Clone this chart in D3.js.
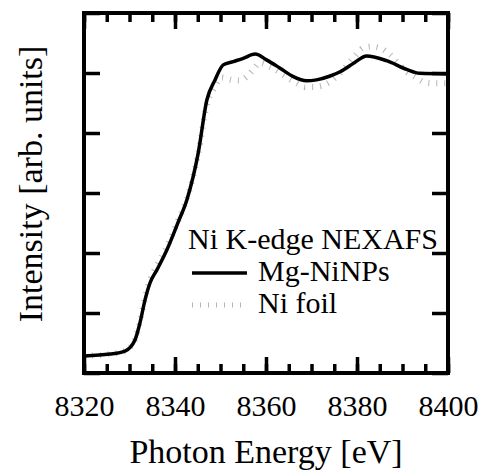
<!DOCTYPE html>
<html>
<head>
<meta charset="utf-8">
<script src="https://cdn.jsdelivr.net/npm/d3@7"></script>
<style>
  body { margin: 0; background: #fff; }
  svg { display: block; }
</style>
</head>
<body>
<div id="chart"></div>
<script>
// photon energy (eV) and normalized intensity
var mgEnergy = [8320, 8325.7, 8329.0, 8331.2, 8332.3, 8333.4, 8334.5, 8336.0, 8338.2, 8340.7,
  8342.6, 8345.1, 8347.0, 8348.8, 8350.6, 8352.8, 8355.0, 8357.6, 8360.2, 8363.1, 8366.0,
  8368.9, 8371.1, 8374.1, 8376.3, 8379.5, 8382.1, 8386.5, 8390.9, 8393.8, 8400];
var mgValues = [0.057, 0.063, 0.073, 0.11, 0.167, 0.243, 0.30, 0.343, 0.41, 0.503,
  0.577, 0.733, 0.91, 0.977, 1.027, 1.038, 1.049, 1.063, 1.043, 1.016, 0.988,
  0.974, 0.977, 0.99, 1.004, 1.035, 1.057, 1.041, 1.012, 0.999, 0.997];

var foilEnergy = [8320, 8325.7, 8329.0, 8331.2, 8332.3, 8333.4, 8334.5, 8336.0, 8338.2, 8340.7,
  8342.6, 8345.1, 8347.0, 8348.6, 8350.2, 8352.5, 8354.3, 8355.8, 8357.1, 8358.7, 8360.9,
  8363.1, 8364.8, 8366.7, 8368.6, 8370.3, 8372.2, 8374.1, 8376.3, 8379.6, 8381.3, 8383.2,
  8385.1, 8387.3, 8389.0, 8390.9, 8392.7, 8394.5, 8396.4, 8400];
var foilValues = [0.057, 0.063, 0.074, 0.112, 0.17, 0.25, 0.31, 0.357, 0.42, 0.51,
  0.58, 0.73, 0.895, 0.95, 0.985, 0.977, 0.975, 0.988, 1.01, 1.034, 1.021,
  1.001, 0.983, 0.967, 0.953, 0.953, 0.957, 0.971, 1.0, 1.057, 1.083, 1.088,
  1.083, 1.06, 1.033, 1.004, 0.988, 0.971, 0.966, 0.966];

var xTicks = [8320, 8340, 8360, 8380, 8400];
var xMinorTicks = d3.range(8320, 8401, 5);
var yTicks = [0, 0.2, 0.4, 0.6, 0.8, 1.0, 1.2];

var legendTitle = "Ni K-edge NEXAFS";
var seriesNames = ["Mg-NiNPs", "Ni foil"];

var serif = "Liberation Serif, DejaVu Serif, serif";

var margin = {top: 13, right: 31, bottom: 97, left: 84},
    width = 364,
    height = 360;

var svg = d3.select("#chart").append("svg")
    .attr("width", 479)
    .attr("height", 470);

var g = svg.append("g")
    .attr("transform", "translate(" + margin.left + "," + margin.top + ")");

var x = d3.scaleLinear().domain([8320, 8400]).range([0, width]);
var y = d3.scaleLinear().domain([0, 1.2]).range([height, 0]);

var line = d3.line()
    .x(function(d) { return x(d[0]); })
    .y(function(d) { return y(d[1]); })
    .curve(d3.curveMonotoneX);

var mgData = mgEnergy.map(function(e, i) { return [e, mgValues[i]]; });
var foilData = foilEnergy.map(function(e, i) { return [e, foilValues[i]]; });

// Ni foil: thick grey line with tiny dashes -> little perpendicular ticks
g.append("path")
    .datum(foilData)
    .attr("d", line)
    .attr("fill", "none")
    .attr("stroke", "#b4b4b4")
    .attr("stroke-width", 6)
    .attr("stroke-dasharray", "1,7");

g.append("path")
    .datum(mgData)
    .attr("d", line)
    .attr("fill", "none")
    .attr("stroke", "#000")
    .attr("stroke-width", 3.5);

// ticks on all four sides, pointing inward
function tickStyle(sel) {
  sel.select(".domain").remove();
  sel.selectAll(".tick line").attr("stroke", "#000").attr("stroke-width", 3.5);
}

g.append("g")
    .attr("transform", "translate(0," + height + ")")
    .call(d3.axisBottom(x).tickValues(xMinorTicks).tickSize(-9).tickFormat(""))
    .call(tickStyle);
g.append("g")
    .call(d3.axisTop(x).tickValues(xMinorTicks).tickSize(-9).tickFormat(""))
    .call(tickStyle);

var xAxis = g.append("g")
    .attr("transform", "translate(0," + height + ")")
    .call(d3.axisBottom(x).tickValues(xTicks).tickSize(-16).tickPadding(22)
      .tickFormat(d3.format("d")))
    .call(tickStyle)
    .attr("font-family", serif)
    .attr("font-size", 30);
xAxis.selectAll("text")
    .attr("fill", "#000")
    .style("font-family", serif);

g.append("g")
    .call(d3.axisTop(x).tickValues(xTicks).tickSize(-16).tickFormat(""))
    .call(tickStyle);

g.append("g")
    .call(d3.axisLeft(y).tickValues(yTicks).tickSize(-16).tickFormat(""))
    .call(tickStyle);
g.append("g")
    .attr("transform", "translate(" + width + ",0)")
    .call(d3.axisRight(y).tickValues(yTicks).tickSize(-16).tickFormat(""))
    .call(tickStyle);

// frame
g.append("rect")
    .attr("width", width)
    .attr("height", height)
    .attr("fill", "none")
    .attr("stroke", "#000")
    .attr("stroke-width", 4);

// axis titles
svg.append("text")
    .attr("x", margin.left + width / 2)
    .attr("y", 463)
    .attr("text-anchor", "middle")
    .style("font-family", serif)
    .style("font-size", "34px")
    .text("Photon Energy [eV]");

svg.append("text")
    .attr("transform", "rotate(-90)")
    .attr("x", -184)
    .attr("y", 42)
    .attr("text-anchor", "middle")
    .style("font-family", serif)
    .style("font-size", "34px")
    .text("Intensity [arb. units]");

// legend
var legend = svg.append("g")
    .style("font-family", serif)
    .style("font-size", "30px");

legend.append("text")
    .attr("x", 188)
    .attr("y", 249)
    .text(legendTitle);

legend.append("line")
    .attr("x1", 192).attr("x2", 247)
    .attr("y1", 273).attr("y2", 273)
    .attr("stroke", "#000")
    .attr("stroke-width", 3.5);
legend.append("text")
    .attr("x", 258)
    .attr("y", 281)
    .text(seriesNames[0]);

legend.append("line")
    .attr("x1", 192).attr("x2", 247)
    .attr("y1", 305).attr("y2", 305)
    .attr("stroke", "#b4b4b4")
    .attr("stroke-width", 5)
    .attr("stroke-dasharray", "1,7");
legend.append("text")
    .attr("x", 258)
    .attr("y", 313)
    .text(seriesNames[1]);
</script>
</body>
</html>
